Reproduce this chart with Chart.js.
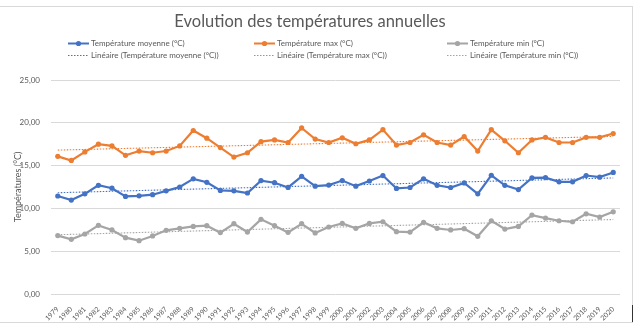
<!DOCTYPE html>
<html>
<head>
<meta charset="utf-8">
<script src="https://cdn.jsdelivr.net/npm/chart.js"></script>
<style>
  html, body { margin: 0; padding: 0; background: #fff; }
  #wrap { position: relative; width: 640px; height: 328px; overflow: hidden; }
  #chart { position: absolute; left: 0; top: 0; }
  #frame { position: absolute; left: -1px; top: 6px; width: 632px; height: 315px; border: 1px solid #d9d9d9; pointer-events: none; }
  #shadow { position: absolute; left: 632px; top: 305px; width: 1px; height: 17px; background: #333; }
  #legend { position: absolute; left: 0; top: 0; width: 640px; height: 70px; font-family: Lato, sans-serif; font-size: 8px; color: #595959; }
  .item { position: absolute; height: 11px; line-height: 11px; white-space: nowrap; }
  .item svg { position: absolute; left: 0; top: 0; }
  .item span { position: absolute; top: 0; }
</style>
</head>
<body>
<div id="wrap">
  <canvas id="chart" width="640" height="328"></canvas>
  <div id="legend"></div>
  <div id="frame"></div>
  <div id="shadow"></div>
</div>
<script>
const years = ['1979','1980','1981','1982','1983','1984','1985','1986','1987','1988',
  '1989','1990','1991','1992','1993','1994','1995','1996','1997','1998','1999',
  '2000','2001','2002','2003','2004','2005','2006','2007','2008','2009','2010',
  '2011','2012','2013','2014','2015','2016','2017','2018','2019','2020'];

const tempMoyenne = [11.45, 10.97, 11.7, 12.7, 12.36, 11.4, 11.47, 11.6, 12.05, 12.5,
  13.45, 13.05, 12.1, 12.05, 11.8, 13.25, 13.0, 12.45, 13.75, 12.6, 12.72,
  13.25, 12.6, 13.2, 13.84, 12.33, 12.44, 13.45, 12.7, 12.44, 12.98, 11.7,
  13.87, 12.7, 12.2, 13.56, 13.6, 13.1, 13.1, 13.84, 13.65, 14.2];

const tempMax = [16.08, 15.6, 16.6, 17.5, 17.3, 16.2, 16.7, 16.5, 16.7, 17.3,
  19.1, 18.2, 17.1, 16.0, 16.5, 17.8, 18.0, 17.7, 19.4, 18.1, 17.7,
  18.25, 17.55, 18.0, 19.2, 17.4, 17.7, 18.6, 17.7, 17.4, 18.4, 16.7,
  19.2, 17.9, 16.5, 18.0, 18.3, 17.7, 17.7, 18.3, 18.3, 18.75];

const tempMin = [6.82, 6.39, 7.01, 8.02, 7.48, 6.58, 6.23, 6.78, 7.44, 7.67,
  7.9, 7.98, 7.17, 8.21, 7.24, 8.72, 7.98, 7.2, 8.21, 7.13, 7.83,
  8.25, 7.67, 8.25, 8.44, 7.28, 7.24, 8.37, 7.67, 7.48, 7.63, 6.74,
  8.56, 7.59, 7.9, 9.22, 8.87, 8.56, 8.44, 9.37, 8.99, 9.6];

const yTicks = [0, 5, 10, 15, 20, 25];

const seriesNames = ['Température moyenne (°C)', 'Température max (°C)', 'Température min (°C)'];
const colors = ['#4472C4', '#ED7D31', '#A5A5A5'];

// least squares trend, like Excel's "Linéaire" trendline
function trend(values) {
  const n = values.length;
  let sx = 0, sy = 0, sxy = 0, sxx = 0;
  values.forEach((v, i) => { const x = i + 1; sx += x; sy += v; sxy += x * v; sxx += x * x; });
  const b = (n * sxy - sx * sy) / (n * sxx - sx * sx);
  const a = (sy - b * sx) / n;
  return values.map((v, i) => a + b * (i + 1));
}

const series = [tempMoyenne, tempMax, tempMin];
const datasets = [];
series.forEach((vals, i) => {
  datasets.push({
    label: seriesNames[i], data: vals, borderColor: colors[i], backgroundColor: colors[i],
    borderWidth: 2.2, pointRadius: 2.6, pointBorderWidth: 0, tension: 0, order: 1
  });
});
series.forEach((vals, i) => {
  datasets.push({
    label: 'Linéaire (' + seriesNames[i] + ')', data: trend(vals), borderColor: colors[i],
    borderWidth: 1.1, borderDash: [1.5, 1.5], pointRadius: 0, tension: 0, order: 2, trendline: true
  });
});

const chart = new Chart(document.getElementById('chart'), {
  type: 'line',
  data: { labels: years, datasets: datasets },
  options: {
    responsive: false,
    animation: false,
    layout: { padding: { left: 0, right: 20, top: 0, bottom: 4 } },
    plugins: {
      legend: { display: false },
      tooltip: { enabled: false },
      title: {
        display: true,
        text: 'Evolution des températures annuelles',
        color: '#595959',
        font: { family: 'Lato', size: 16.5, weight: 'normal' },
        padding: { top: 12, bottom: 48.2 }
      }
    },
    scales: {
      x: {
        offset: true,
        grid: { display: false },
        border: { display: false },
        ticks: { color: '#595959', font: { family: 'Lato', size: 7 }, minRotation: 45, maxRotation: 45, autoSkip: false, padding: 3 },
        afterFit: s => { s.height = 30; }
      },
      y: {
        min: 0, max: 25,
        afterBuildTicks: s => { s.ticks = yTicks.map(v => ({ value: v })); },
        grid: { color: '#d9d9d9', drawTicks: false, lineWidth: 1 },
        border: { display: false },
        ticks: { color: '#595959', font: { family: 'Lato', size: 8 }, padding: 11,
          callback: v => v.toFixed(2).replace('.', ',') },
        title: { display: true, text: 'Températures (°C)', color: '#595959',
          font: { family: 'Lato', size: 9 }, padding: { top: 12.6, bottom: 0 } },
        afterFit: s => { s.width = 51; }
      }
    }
  }
});

// legend in 3 columns x 2 rows like the original
const legendCols = [68, 254, 447];
const legendRows = [38, 49.5];
const legendEl = document.getElementById('legend');
chart.data.datasets.forEach((ds, i) => {
  const item = document.createElement('div');
  item.className = 'item';
  item.style.left = legendCols[i % 3] + 'px';
  item.style.top = legendRows[Math.floor(i / 3)] + 'px';
  const line = ds.trendline
    ? `<line x1="0" y1="5.5" x2="21" y2="5.5" stroke="${ds.borderColor}" stroke-width="1" stroke-dasharray="1.5 1.5"/>`
    : `<line x1="0" y1="5.5" x2="21" y2="5.5" stroke="${ds.borderColor}" stroke-width="2"/><circle cx="10.5" cy="5.5" r="2.6" fill="${ds.borderColor}"/>`;
  item.innerHTML = `<svg width="22" height="11">${line}</svg><span style="left:23px">${ds.label}</span>`;
  legendEl.appendChild(item);
});
</script>
</body>
</html>
